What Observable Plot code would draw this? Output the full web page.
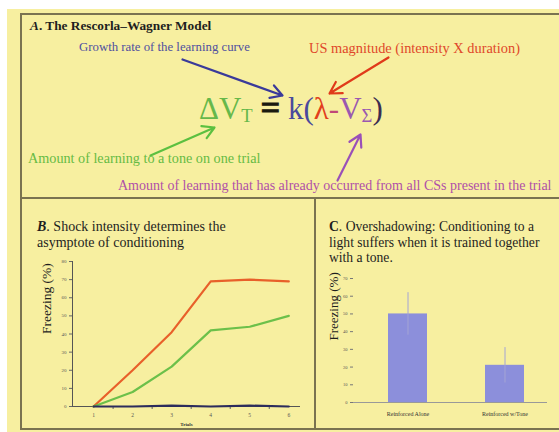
<!DOCTYPE html>
<html><head><meta charset="utf-8">
<script src="https://cdn.jsdelivr.net/npm/d3@7"></script>
<script src="https://cdn.jsdelivr.net/npm/@observablehq/plot@0.6"></script>
<style>
html,body{margin:0;padding:0;background:#fff;}
#page{position:relative;width:559px;height:432px;overflow:hidden;font-family:"Liberation Serif","Times New Roman",serif;color:#1e1e1e;}
#bg{position:absolute;left:7px;top:9px;width:552px;height:423px;background:#f7efa0;}
.ln{position:absolute;background:#7a7350;}
.t{position:absolute;white-space:nowrap;line-height:1;}
.abs{position:absolute;}
.abs svg{display:block;max-width:none;}
sub{font-size:0.6em;vertical-align:-0.18em;}
</style></head>
<body>
<div id="page">
  <div id="bg"></div>
  <!-- frames -->
  <div class="ln" style="left:20px;top:13px;width:539px;height:2px"></div>
  <div class="ln" style="left:20px;top:13px;width:2px;height:417px"></div>
  <div class="ln" style="left:20px;top:197px;width:539px;height:2px"></div>
  <div class="ln" style="left:314px;top:197px;width:2px;height:233px"></div>
  <div class="ln" style="left:20px;top:428px;width:539px;height:2px"></div>

  <!-- panel A -->
  <div class="t" style="left:30px;top:19px;font-size:13.3px;font-weight:bold"><i>A</i>. The Rescorla–Wagner Model</div>
  <div class="t" style="left:79px;top:41px;font-size:12.8px;color:#4f4f9f">Growth rate of the learning curve</div>
  <div class="t" style="left:309px;top:41px;font-size:14.4px;color:#e0482a">US magnitude (intensity X duration)</div>
  <div class="t" style="left:199px;top:91px;font-size:31px"><span style="color:#66b84a">ΔV<sub>T</sub></span> <b style="color:#1a1a10;font-size:1.12em;-webkit-text-stroke:0.8px #1a1a10">=</b> <span style="color:#4a4a9c">k(</span><span style="color:#e2401c">λ</span><span style="color:#c04878">-</span><span style="color:#9a58b0">V<sub>Σ</sub></span><span style="color:#3c2c50">)</span></div>
  <div class="t" style="left:28px;top:151px;font-size:14.2px;color:#66bb44">Amount of learning to a tone on one trial</div>
  <div class="t" style="left:118px;top:179px;font-size:14px;color:#b050a8">Amount of learning that has already occurred from all CSs present in the trial</div>
  <div class="abs" id="arrows" style="left:0;top:0"></div>

  <!-- panel B -->
  <div class="t" style="left:37px;top:219px;font-size:14px;line-height:15.5px"><b><i>B</i></b>. Shock intensity determines the<br>asymptote of conditioning</div>
  <div class="abs" id="plotB" style="left:22px;top:245px"></div>

  <!-- panel C -->
  <div class="t" style="left:329px;top:219px;font-size:13.6px;line-height:15.5px"><b>C</b>. Overshadowing: Conditioning to a<br>light suffers when it is trained together<br>with a tone.</div>
  <div class="abs" id="plotC" style="left:317px;top:265px"></div>
</div>
<script>
// ---------- Panel A annotation arrows (page pixel coordinates) ----------
const arrowFromX = [182, 388, 150, 337];
const arrowFromY = [59, 57, 155, 180];
const arrowToX   = [282, 329, 214, 360];
const arrowToY   = [95, 93, 127, 134];
const arrowColor = ["#3a3a9a", "#e03a1a", "#5cc040", "#9a50b8"];

// ---------- Panel B data ----------
const trials = [1, 2, 3, 4, 5, 6];
const strongShock = [0, 20, 41, 69, 70, 69];
const weakShock = [0, 8, 22, 42, 44, 50];
const noShock = [0, 0, 0.5, 0, 0.5, 0];
const yTicksB = [0, 10, 20, 30, 40, 50, 60, 70, 80];
const minorTicksB = [1.5, 2.5, 3.5, 4.5, 5.5];

// ---------- Panel C data ----------
const conditions = ["Reinforced Alone", "Reinforced w/Tone"];
const freezing = [50, 21];
const sem = [12, 10];
const yTicksC = [0, 10, 20, 30, 40, 50, 60, 70];

const font = '"Liberation Serif","Times New Roman",serif';

// Arrows
const arrowRows = arrowFromX.map((x1, i) => ({x1, y1: arrowFromY[i], x2: arrowToX[i], y2: arrowToY[i], c: arrowColor[i]}));
document.getElementById("arrows").append(Plot.plot({
  width: 559, height: 200, margin: 0,
  style: {background: "transparent"},
  x: {domain: [0, 559], range: [0, 559], axis: null},
  y: {domain: [0, 200], range: [0, 200], axis: null},
  marks: [
    Plot.arrow(arrowRows, {x1: "x1", y1: "y1", x2: "x2", y2: "y2", stroke: d => d.c, strokeWidth: 2.2, headLength: 9})
  ]
}));

// Panel B
const seriesB = [
  {name: "strong", values: strongShock, color: "#e8602a"},
  {name: "weak", values: weakShock, color: "#6cc04a"},
  {name: "none", values: noShock, color: "#2c2c5c"}
];
const rowsB = seriesB.flatMap(s => trials.map((t, i) => ({trial: t, value: s.values[i], series: s.name, color: s.color})));
document.getElementById("plotB").append(Plot.plot({
  width: 292, height: 185,
  marginLeft: 50, marginRight: 14, marginTop: 16, marginBottom: 24,
  style: {background: "transparent", fontFamily: font, color: "#555"},
  x: {domain: [0.46, 6.3]},
  y: {domain: [0, 80]},
  marks: [
    Plot.axisY({ticks: yTicksB, tickSize: 3, tickPadding: 3, fontSize: 5, label: null, stroke: "#666"}),
    Plot.axisX({ticks: trials, tickSize: 0, tickPadding: 7, fontSize: 5.5, label: null, tickFormat: d3.format("d")}),
    Plot.axisX({ticks: minorTicksB, tickSize: 3, tickFormat: () => "", label: null, stroke: "#666"}),
    Plot.ruleX([0.46], {y1: 0, y2: 80, stroke: "#555", strokeWidth: 1}),
    Plot.ruleY([0], {stroke: "#555", strokeWidth: 1.2}),
    Plot.line(rowsB, {x: "trial", y: "value", z: "series", stroke: "color", strokeWidth: 2.2}),
    Plot.text(["Freezing (%)"], {text: d => d, frameAnchor: "left", rotate: -90, dx: -26, fontSize: 13.5, fill: "#1e1e1e"}),
    Plot.text(["Trials"], {text: d => d, frameAnchor: "bottom", dy: 19, fontSize: 5, fontWeight: "bold", fill: "#333"})
  ]
}));

// Panel C
const rowsC = conditions.map((c, i) => ({cond: c, value: freezing[i], lo: freezing[i] - sem[i], hi: freezing[i] + sem[i]}));
document.getElementById("plotC").append(Plot.plot({
  width: 242, height: 163,
  marginLeft: 36, marginRight: 12, marginTop: 13, marginBottom: 26,
  style: {background: "transparent", fontFamily: font, color: "#555"},
  x: {domain: conditions, paddingInner: 0.6, paddingOuter: 0.29, align: 0.6},
  y: {domain: [0, 70]},
  marks: [
    Plot.barY(rowsC, {x: "cond", y: "value", fill: "#8c8fdb"}),
    Plot.ruleX(rowsC, {x: "cond", y1: "lo", y2: "hi", stroke: "#a4a4d4", strokeWidth: 1}),
    Plot.ruleY([0], {stroke: "#999", strokeWidth: 1}),
    Plot.axisY({ticks: yTicksC, tickSize: 3, tickPadding: 3, fontSize: 4.5, label: null, stroke: "#777"}),
    Plot.axisX({tickSize: 0, tickPadding: 9, fontSize: 6, label: null, fill: "#333"}),
    Plot.text(["Freezing (%)"], {text: d => d, frameAnchor: "left", rotate: -90, dx: -20, fontSize: 13, fill: "#1e1e1e"})
  ]
}));
</script>
</body></html>
